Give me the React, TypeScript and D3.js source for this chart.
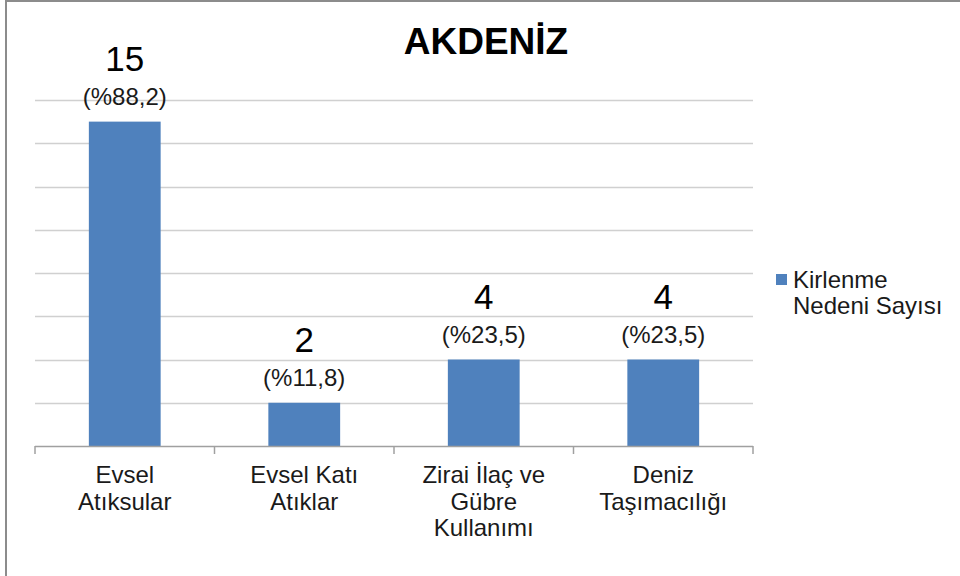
import React, { useEffect, useRef } from 'react';
import * as d3 from 'd3';

const title = 'AKDENİZ';
const categories = ['Evsel Atıksular', 'Evsel Katı Atıklar', 'Zirai İlaç ve Gübre Kullanımı', 'Deniz Taşımacılığı'];
// wrapped lines for the category axis
const categoryLines = [
  ['Evsel', 'Atıksular'],
  ['Evsel Katı', 'Atıklar'],
  ['Zirai İlaç ve', 'Gübre', 'Kullanımı'],
  ['Deniz', 'Taşımacılığı'],
];
const values = [15, 2, 4, 4];
const percentLabels = ['(%88,2)', '(%11,8)', '(%23,5)', '(%23,5)'];
const yTicks = [0, 2, 4, 6, 8, 10, 12, 14, 16];
const legendLines = ['Kirlenme', 'Nedeni Sayısı'];

const FONT = '"Liberation Sans", Arial, sans-serif';

function App() {
  const ref = useRef<SVGSVGElement>(null);

  useEffect(() => {
    const svg = d3.select(ref.current);
    svg.selectAll('*').remove();

    const left = 35, right = 753, top = 100, bottom = 446;

    const x = d3.scaleBand<string>()
      .domain(categories)
      .range([left, right])
      .paddingInner(0.6)
      .paddingOuter(0.3);

    const y = d3.scaleLinear().domain([0, 16]).range([bottom, top]);

    // outer frame
    svg.append('rect')
      .attr('x', 6).attr('y', 1)
      .attr('width', 1000).attr('height', 700)
      .attr('fill', 'white')
      .attr('stroke', '#8c8c8c').attr('stroke-width', 2);

    // gridlines
    svg.append('g')
      .selectAll('line')
      .data(yTicks.filter(d => d > 0))
      .enter().append('line')
      .attr('x1', left).attr('x2', right)
      .attr('y1', d => Math.round(y(d)) + 0.5)
      .attr('y2', d => Math.round(y(d)) + 0.5)
      .attr('stroke', '#d0d0d0').attr('stroke-width', 1.6);

    // bars
    svg.append('g')
      .selectAll('rect')
      .data(values)
      .enter().append('rect')
      .attr('x', (d, i) => x(categories[i])!)
      .attr('y', d => y(d))
      .attr('width', x.bandwidth())
      .attr('height', d => bottom - y(d))
      .attr('fill', '#4f81bd');

    // category axis line + ticks
    const axis = svg.append('g').attr('stroke', '#a0a0a0').attr('stroke-width', 1.5);
    axis.append('line')
      .attr('x1', left).attr('x2', right)
      .attr('y1', bottom + 0.5).attr('y2', bottom + 0.5);
    const step = x.step();
    axis.selectAll('line.tick')
      .data(d3.range(categories.length + 1))
      .enter().append('line')
      .attr('class', 'tick')
      .attr('x1', i => left + i * step).attr('x2', i => left + i * step)
      .attr('y1', bottom).attr('y2', bottom + 8);

    // category labels
    categoryLines.forEach((lines, i) => {
      const cx = x(categories[i])! + x.bandwidth() / 2;
      const t = svg.append('text')
        .attr('text-anchor', 'middle')
        .attr('font-family', FONT)
        .attr('font-size', 24)
        .attr('fill', '#1a1a1a');
      lines.forEach((ln, j) => {
        t.append('tspan').attr('x', cx).attr('y', 483 + j * 26.5).text(ln);
      });
    });

    // value labels
    values.forEach((v, i) => {
      const cx = x(categories[i])! + x.bandwidth() / 2;
      svg.append('text')
        .attr('x', cx).attr('y', y(v) - 51)
        .attr('text-anchor', 'middle')
        .attr('font-family', FONT).attr('font-size', 35)
        .attr('fill', '#000')
        .text(v);
      svg.append('text')
        .attr('x', cx).attr('y', y(v) - 17)
        .attr('text-anchor', 'middle')
        .attr('font-family', FONT).attr('font-size', 24)
        .attr('fill', '#1a1a1a')
        .text(percentLabels[i]);
    });

    // title
    svg.append('text')
      .attr('x', 486).attr('y', 54)
      .attr('text-anchor', 'middle')
      .attr('font-family', FONT).attr('font-size', 37).attr('font-weight', 'bold')
      .attr('fill', '#000')
      .text(title);

    // legend
    svg.append('rect')
      .attr('x', 776).attr('y', 274)
      .attr('width', 11).attr('height', 11)
      .attr('fill', '#4f81bd');
    const lg = svg.append('text')
      .attr('font-family', FONT).attr('font-size', 24)
      .attr('fill', '#1a1a1a');
    legendLines.forEach((ln, j) => {
      lg.append('tspan').attr('x', 793).attr('y', 288 + j * 26).text(ln);
    });
  }, []);

  return (
    <svg ref={ref} width={960} height={576}
      style={{ position: 'absolute', left: 0, top: 0, display: 'block' }} />
  );
}

export default App;
